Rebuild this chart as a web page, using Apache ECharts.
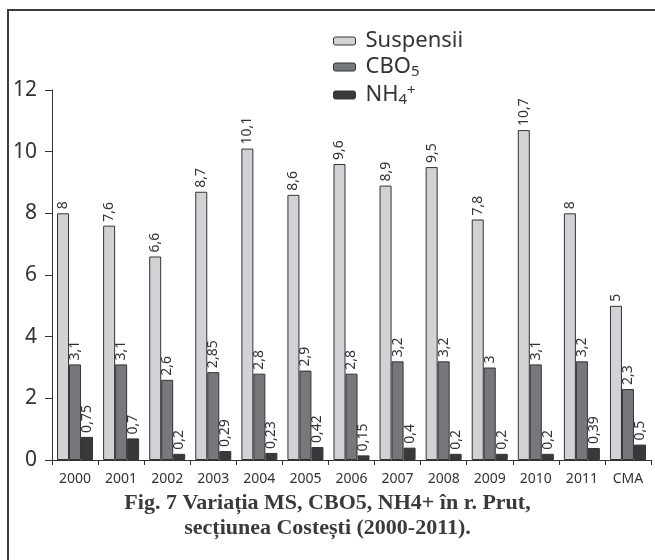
<!DOCTYPE html>
<html>
<head>
<meta charset="utf-8">
<script src="https://cdn.jsdelivr.net/npm/echarts@6/dist/echarts.min.js"></script>
<style>
html,body{margin:0;padding:0;background:#fff;}
#c{width:655px;height:560px;}
</style>
</head>
<body>
<div id="c"></div>
<script>
const categories = ['2000','2001','2002','2003','2004','2005','2006','2007','2008','2009','2010','2011','CMA'];
const suspensii = [8, 7.6, 6.6, 8.7, 10.1, 8.6, 9.6, 8.9, 9.5, 7.8, 10.7, 8, 5];
const cbo5 = [3.1, 3.1, 2.6, 2.85, 2.8, 2.9, 2.8, 3.2, 3.2, 3, 3.1, 3.2, 2.3];
const nh4 = [0.75, 0.7, 0.2, 0.29, 0.23, 0.42, 0.15, 0.4, 0.2, 0.2, 0.2, 0.39, 0.5];
const seriesNames = ['Suspensii', 'CBO5', 'NH4+'];
const yTicks = [0, 2, 4, 6, 8, 10, 12];
const captionLines = ['Fig. 7 Variația MS, CBO5, NH4+ în r. Prut,', 'secțiunea Costești (2000-2011).'];

const FONT = 'Noto Sans';
const colors = ['#d1d2d6', '#77787c', '#38393b'];

const chart = echarts.init(document.getElementById('c'), null, {renderer: 'canvas'});

function mkSeries(name, data, color) {
  return {
    name: name,
    type: 'bar',
    data: data,
    barWidth: 12,
    barGap: '0%',
    itemStyle: {color: color, borderColor: '#333', borderWidth: 1},
    label: {
      show: true,
      position: 'top',
      rotate: 90,
      align: 'left',
      verticalAlign: 'middle',
      distance: 4,
      fontFamily: FONT,
      fontSize: 14,
      color: '#333',
      formatter: p => String(p.value).replace('.', ',')
    }
  };
}

const option = {
  animation: false,
  backgroundColor: '#fff',
  grid: {left: 52, right: 4, top: 90, bottom: 100, containLabel: false},
  legend: {
    orient: 'vertical',
    left: 333,
    top: 30,
    padding: 0,
    itemWidth: 22,
    itemHeight: 8,
    itemGap: 4,
    data: seriesNames,
    textStyle: {
      fontFamily: FONT, fontSize: 22, color: '#333', padding: [0, 0, 0, 5],
      rich: {
        m: {fontFamily: FONT, fontSize: 22, color: '#333', lineHeight: 24},
        sub: {fontFamily: FONT, fontSize: 15, color: '#333', lineHeight: 15, verticalAlign: 'bottom'},
        sup: {fontFamily: FONT, fontSize: 15, color: '#333', lineHeight: 15, verticalAlign: 'top'}
      }
    },
    formatter: function (n) {
      if (n === 'CBO5') return '{m|CBO}{sub|5}';
      if (n === 'NH4+') return '{m|NH}{sub|4}{sup|+}';
      return '{m|' + n + '}';
    },
    itemStyle: {borderColor: '#333', borderWidth: 1}
  },
  xAxis: {
    type: 'category',
    data: categories,
    offset: 2,
    axisLine: {lineStyle: {color: '#333', width: 1}},
    axisTick: {show: true, length: 5, lineStyle: {color: '#333'}},
    axisLabel: {fontFamily: FONT, fontSize: 14, color: '#333', margin: 10, interval: 0}
  },
  yAxis: {
    type: 'value',
    min: yTicks[0],
    max: yTicks[yTicks.length - 1],
    interval: 2,
    splitLine: {show: false},
    axisLine: {show: true, lineStyle: {color: '#333', width: 1}},
    axisTick: {show: true, length: 7, lineStyle: {color: '#333'}},
    axisLabel: {fontFamily: FONT, fontSize: 21, color: '#333', margin: 15}
  },
  series: [
    mkSeries(seriesNames[0], suspensii, colors[0]),
    mkSeries(seriesNames[1], cbo5, colors[1]),
    mkSeries(seriesNames[2], nh4, colors[2])
  ],
  graphic: [
    {type: 'rect', shape: {x: 8, y: 10, width: 700, height: 600}, style: {fill: null, stroke: '#3c3c3c', lineWidth: 2}, silent: true},
    {type: 'text', left: 'center', top: 492, style: {text: captionLines[0], font: 'bold 22px "Liberation Serif"', fill: '#3a3a3a', textAlign: 'center'}},
    {type: 'text', left: 'center', top: 517, style: {text: captionLines[1], font: 'bold 22px "Liberation Serif"', fill: '#3a3a3a', textAlign: 'center'}}
  ]
};
chart.setOption(option);
</script>
</body>
</html>
